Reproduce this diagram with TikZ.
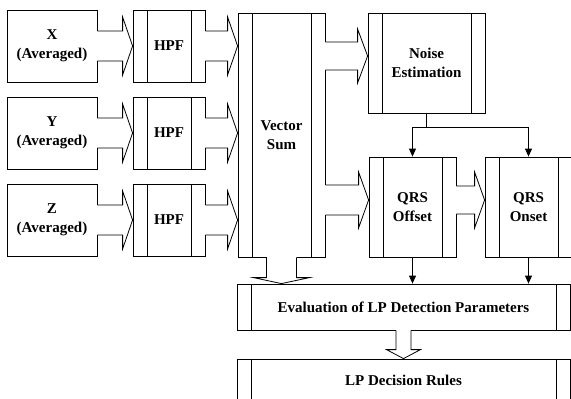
\documentclass[tikz,border=0pt]{standalone}
\usepackage{fontspec}
\setmainfont{Liberation Serif}
\usepackage{tikz}
\usetikzlibrary{positioning,arrows.meta,calc}

% fat block arrow to the right: #1 from (sets height), #2 to, #3 shaft half, #4 head half
\newcommand{\rfat}[4]{%
  \fill[white] let \p1=(#1), \p2=(#2) in (\x1-1pt,\y1+#3) rectangle (\x2-10pt,\y1-#3);
  \draw let \p1=(#1), \p2=(#2) in (\x1,\y1+#3) -- (\x2-10pt,\y1+#3) -- (\x2-10pt,\y1+#4)
    -- (\x2,\y1) -- (\x2-10pt,\y1-#4) -- (\x2-10pt,\y1-#3) -- (\x1,\y1-#3);}
% fat block arrow downwards: #5 head length
\newcommand{\dfat}[5]{%
  \fill[white] let \p1=(#1), \p2=(#2) in (\x1-#3,\y1+1pt) rectangle (\x1+#3,\y2+#5);
  \draw let \p1=(#1), \p2=(#2) in (\x1-#3,\y1) -- (\x1-#3,\y2+#5) -- (\x1-#4,\y2+#5)
    -- (\x1,\y2) -- (\x1+#4,\y2+#5) -- (\x1+#3,\y2+#5) -- (\x1+#3,\y1);}

\begin{document}
\begin{tikzpicture}[
    x=1pt, y=1pt, line width=0.8pt,
    font=\bfseries\fontsize{15}{19}\selectfont,
    blk/.style = {draw=black, align=center, inner sep=0pt},
    prc/.style = {blk, path picture={
        \draw ([xshift=14pt]path picture bounding box.north west)
           -- ([xshift=14pt]path picture bounding box.south west);
        \draw ([xshift=-14pt]path picture bounding box.north east)
           -- ([xshift=-14pt]path picture bounding box.south east);}},
    ar/.style  = {-{Triangle[length=8pt,width=7pt]}, line width=0.8pt},
]
\path[use as bounding box, clip] (0,0) rectangle (571,-399);

%--- averaged inputs
\node[blk, minimum width=90pt, minimum height=72pt] (xin) at (52,-46)  {X\\(Averaged)};
\node[blk, minimum width=90pt, minimum height=72pt] (yin) at (52,-133) {Y\\(Averaged)};
\node[blk, minimum width=90pt, minimum height=72pt] (zin) at (52,-220) {Z\\(Averaged)};

%--- high pass filters
\node[prc, minimum width=72pt, minimum height=72pt] (hpfx) at (169,-46)  {HPF};
\node[prc, minimum width=72pt, minimum height=72pt] (hpfy) at (169,-133) {HPF};
\node[prc, minimum width=72pt, minimum height=72pt] (hpfz) at (169,-220) {HPF};

%--- processing
\node[prc, minimum width=87pt,  minimum height=244pt] (vsum)   at (281.5,-135) {Vector\\Sum};
\node[prc, minimum width=117pt, minimum height=100pt] (noise)  at (426.5,-63)  {Noise\\Estimation};
\node[prc, minimum width=87pt,  minimum height=100pt] (offset) at (412.5,-207) {QRS\\Offset};
\node[prc, minimum width=87pt,  minimum height=100pt] (onset)  at (528.5,-207) {QRS\\Onset};

\node[prc, minimum width=333pt, minimum height=46pt] (eval)  at (403.5,-307) {Evaluation of LP Detection Parameters};
\node[prc, minimum width=333pt, minimum height=42pt] (rules) at (403.5,-380) {LP Decision Rules};

%--- block arrows
\rfat{xin.east}{hpfx.west}{15pt}{29pt}
\rfat{yin.east}{hpfy.west}{15pt}{29pt}
\rfat{zin.east}{hpfz.west}{15pt}{29pt}
\rfat{hpfx.east}{vsum.west}{15pt}{29pt}
\rfat{hpfy.east}{vsum.west}{15pt}{29pt}
\rfat{hpfz.east}{vsum.west}{15pt}{29pt}

\coordinate (nz) at ([yshift=7pt]noise.west);
\coordinate (of) at ([yshift=7pt]offset.west);
\coordinate (on) at ([yshift=7pt]onset.west);
\rfat{vsum.east |- nz}{nz}{14pt}{27pt}
\rfat{vsum.east |- of}{of}{15pt}{28pt}
\rfat{offset.east |- on}{on}{14pt}{28pt}

\dfat{vsum.south}{vsum.south |- eval.north}{15pt}{28pt}{6pt}
\dfat{eval.south}{eval.south |- rules.north}{7.5pt}{17pt}{9pt}

%--- thin connectors
\draw[ar] (noise.south) -- ++(0,-14) -| (offset.north);
\draw[ar] (noise.south) -- ++(0,-14) -| (onset.north);
\draw[ar] (offset.south) -- (offset.south |- eval.north);
\draw[ar] (onset.south) -- (onset.south |- eval.north);

\end{tikzpicture}
\end{document}
